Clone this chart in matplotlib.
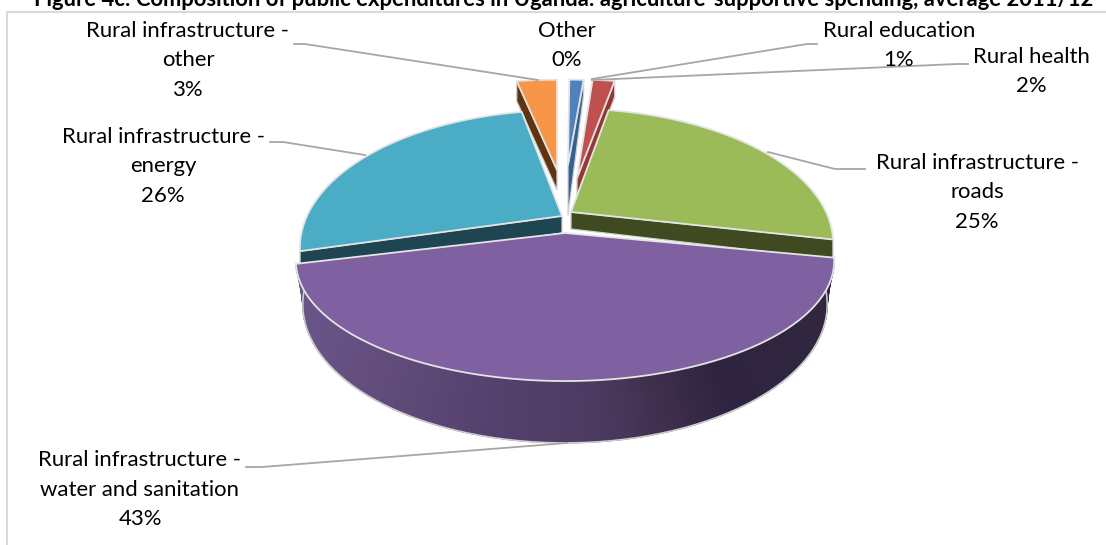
import numpy as np
import matplotlib
matplotlib.use("Agg")
import matplotlib.pyplot as plt
from matplotlib.patches import Polygon
from matplotlib.colors import to_rgb

categories = ["Other", "Rural education", "Rural health", "Rural infrastructure - roads",
              "Rural infrastructure - water and sanitation", "Rural infrastructure - energy",
              "Rural infrastructure - other"]
values = [0.1, 1.1, 1.7, 25.4, 42.6, 26.0, 3.1]
title = "Figure 4c: Composition of public expenditures in Uganda: agriculture-supportive spending, average 2011/12-"

top_colors = ["#8064a2", "#4f81bd", "#c0504d", "#9bbb59", "#7f60a0", "#4bacc6", "#f79646"]
side_colors = ["#4d3b62", "#366092", "#953735", "#3f4a20", "#3a2d4a", "#1d4552", "#5e3510"]
# screen layout of each exploded slice: apex x, apex y, rim radius, rim height
apex_x = [566, 568, 577, 571, 565, 562, 557]
apex_y = [165, 165, 178, 212, 233, 216, 170]
rim_r = [255, 255, 255, 255, 262, 255, 255]
rim_h = [105, 105, 121, 127, 114, 130, 111]
apex_drop = [0, 50, 19, 17, 18, 17, 20]
rim_drop = [0, 15, 16, 20, 20, 20, 20]
PERSP = 0.23

label_lines = [["Other", "0%"], ["Rural education", "1%"], ["Rural health", "2%"],
               ["Rural infrastructure -", "roads", "25%"],
               ["Rural infrastructure -", "water and sanitation", "43%"],
               ["Rural infrastructure -", "energy", "26%"],
               ["Rural infrastructure -", "other", "3%"]]
label_xy = [(567, 31), (899, 31), (1031, 57), (977, 163), (140, 460), (163, 137), (188, 31)]
leaders = [None,
           [(817, 44), (807, 44), (592, 79)],
           [(968, 64), (957, 64), (592, 80)],
           [(865, 169), (835, 169), (768, 152)],
           [(246, 467), (262, 467), (567, 443)],
           [(270, 142), (283, 142), (365, 155)],
           [(294, 44), (305, 44), (538, 80)]]
wall_stops_x = [296, 400, 500, 600, 660, 720, 833]
wall_stops_c = ["#6b568a", "#5f4a78", "#53406c", "#4a3a60", "#3f2f4c", "#2e2440", "#30263f"]

plt.rcParams["font.family"] = ["Lato", "DejaVu Sans"]
fig = plt.figure(figsize=(11.06, 5.45), dpi=100, facecolor="white")
ax = fig.add_axes([0, 0, 1, 1])
ax.set_xlim(0, 1106)
ax.set_ylim(545, 0)
ax.axis("off")


def rim(i, theta, r=None, h=None, p=PERSP, dy=0.0):
    r = rim_r[i] if r is None else r
    h = rim_h[i] if h is None else h
    u, v = np.sin(theta), np.cos(theta)
    s = 1 / (1 + p * v)
    return apex_x[i] + r * u * s, apex_y[i] + dy - h * v * s


# frame
ax.plot([7, 7, 1106], [545, 12, 12], color="#d9d9d9", lw=1.5, zorder=1)

edges = np.concatenate([[0], np.cumsum(values)]) / np.sum(values) * 2 * np.pi
order = [6, 1, 2, 5, 3, 4]
for z, i in enumerate(order):
    t0, t1 = edges[i], edges[i + 1]
    thetas = np.linspace(t0, t1, 160)
    xs, ys = rim(i, thetas)
    mid = (t0 + t1) / 2
    # radial side wall
    te = t1 if mid < np.pi else t0
    ex, ey = rim(i, te)
    if i != 4:
        wall = [(apex_x[i], apex_y[i]), (ex, ey), (ex, ey + rim_drop[i]),
                (apex_x[i], apex_y[i] + apex_drop[i])]
        ax.add_patch(Polygon(wall, closed=True, fc=side_colors[i], ec="#d0d0d0", lw=0.9,
                             zorder=3 + z, joinstyle="round"))
    else:
        # outer wall of the large slice, shaded across its width
        bx, by = rim(i, thetas, r=242, h=118, p=0.385, dy=apex_drop[i])
        stop_rgb = np.array([to_rgb(c) for c in wall_stops_c])
        for k in range(len(thetas) - 1):
            xm = (xs[k] + xs[k + 1] + bx[k] + bx[k + 1]) / 4
            col = [np.interp(xm, wall_stops_x, stop_rgb[:, c]) for c in range(3)]
            ax.add_patch(Polygon([(xs[k], ys[k]), (xs[k + 1], ys[k + 1]),
                                  (bx[k + 1], by[k + 1]), (bx[k], by[k])],
                                 closed=True, fc=col, ec=col, lw=0.8, zorder=3 + z))
        ax.plot(bx, by, color="#cfcfcf", lw=1.1, zorder=3 + z)
        ax.plot([xs[0], bx[0]], [ys[0], by[0]], color="#cfcfcf", lw=1.1, zorder=3 + z)
        ax.plot([xs[-1], bx[-1]], [ys[-1], by[-1]], color="#cfcfcf", lw=1.1, zorder=3 + z)
    poly = [(apex_x[i], apex_y[i])] + list(zip(xs, ys))
    ax.add_patch(Polygon(poly, closed=True, fc=top_colors[i], ec="#e4e4e4", lw=1.3,
                         zorder=3.5 + z, joinstyle="round"))

# leader lines
for pts in leaders:
    if pts is None:
        continue
    ax.plot(*zip(*pts), color="#a6a6a6", lw=1.3, zorder=20)

# labels
LINE = 29.5
for lines, (x, y) in zip(label_lines, label_xy):
    for n, s in enumerate(lines):
        ax.text(x, y + n * LINE, s, ha="center", va="center", fontsize=15.9, color="black", zorder=25)

ax.text(567.5, 6, title, ha="center", va="baseline", fontsize=15.8, fontweight="bold", color="black", zorder=25)

fig.savefig("out.png", dpi=100)
